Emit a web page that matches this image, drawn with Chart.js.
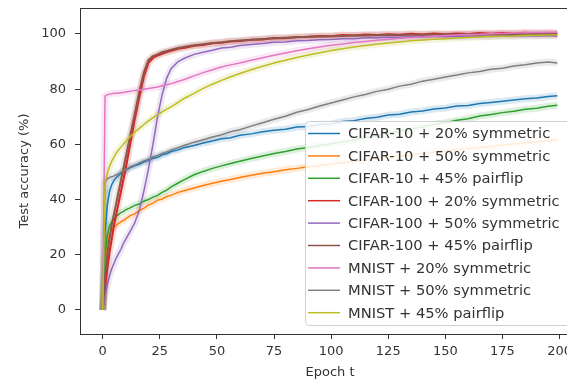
<!DOCTYPE html>
<html>
<head>
<meta charset="utf-8">
<script src="https://cdn.jsdelivr.net/npm/chart.js@4.4.0/dist/chart.umd.min.js"></script>
<style>
    html, body { margin: 0; padding: 0; background: #fff; overflow: hidden; width: 567px; height: 383px; }
    #wrap { position: relative; width: 567px; height: 383px; overflow: hidden; }
    #wrap canvas { position: absolute; left: 0; top: 0; }
</style>
</head>
<body>
<div id="wrap"><canvas id="Graph" width="580" height="383"></canvas></div>
<script>
const epochs = [0, 1, 2, 3, 4, 5, 6, 7, 8, 9, 10, 12, 14, 16, 18, 20, 22, 24, 26, 28, 30, 33, 36, 40, 44, 48, 52, 56, 60,
    65, 70, 75, 80, 85, 90, 95, 100, 105, 110, 115, 120, 125, 130, 135, 140, 145, 150, 155, 160, 165, 170, 175, 180, 185, 190, 195, 199];

const cifar10Sym20 = [0, 28, 38, 43, 45.5, 47, 48, 48.8, 49.5, 50, 50.6, 51.5, 52.2, 52.8, 53.6, 54.1, 54.9, 55.3, 56.2, 56.6, 57.4,
    58, 58.9, 59.6, 60.5, 61.2, 62, 62.4, 63.3, 63.8, 64.6, 65.1, 65.5, 66.3, 66.5, 67.2, 67.4, 68.3, 68.6, 69.4, 69.8, 70.6, 70.9,
    71.7, 72.1, 72.8, 73.2, 73.9, 74.1, 74.8, 75.2, 75.6, 76.1, 76.5, 76.8, 77.3, 77.6];
const cifar10Sym50 = [0, 17, 24, 27.5, 29, 30, 30.8, 31.4, 32, 32.4, 33, 34.2, 34.8, 36.1, 36.8, 38.1, 38.7, 39.8, 40.2, 41.1, 41.6,
    42.6, 43.3, 44.2, 45.1, 45.9, 46.6, 47.3, 48, 48.8, 49.5, 50.1, 50.8, 51.3, 51.9, 52.3, 52.8, 53.4, 53.8, 54.4, 54.8, 55.4, 55.7,
    56.3, 56.6, 57.2, 57.5, 58.1, 58.4, 58.9, 59.3, 59.8, 60.1, 60.6, 60.9, 61.3, 61.6];
const cifar10Pair45 = [0, 20, 27, 30.5, 32, 33, 34, 34.6, 35.3, 35.7, 36.3, 37, 37.9, 38.4, 39.4, 40, 40.9, 41.5, 42.6, 43.4, 44.6,
    46, 47.3, 49, 50.2, 51.3, 52.2, 53.1, 53.9, 54.9, 55.8, 56.7, 57.4, 58.3, 58.9, 59.6, 60.2, 60.9, 61.5, 62.5, 63.1, 64.1, 64.7,
    65.6, 66.3, 67.2, 67.8, 68.7, 69.3, 70.3, 70.8, 71.5, 72, 72.7, 73.1, 73.8, 74.2];
const cifar100Sym20 = [0, 8, 15, 21, 26, 31, 35, 39, 43, 47, 51, 60, 69, 77, 84.5, 89.5, 91.3, 92.2, 92.8, 93.4, 93.9,
    94.6, 95, 95.7, 96, 96.6, 96.8, 97.3, 97.4, 97.9, 98, 98.5, 98.4, 98.9, 99, 99.3, 99.2, 99.6, 99.4, 99.8, 99.6, 99.9, 99.7,
    100.1, 99.8, 100.2, 99.9, 100.2, 100, 100.3, 100.1, 100.3, 100.1, 100.4, 100.2, 100.3, 100.2];
const cifar100Sym50 = [0, 5, 9, 12.5, 15, 17, 19, 20.5, 22, 24, 25.5, 28.5, 31.5, 36, 43, 51, 60, 70, 78, 84, 87.5,
    90, 91.3, 92.6, 93.4, 94.1, 94.9, 95.2, 95.8, 96.2, 96.5, 97, 97.1, 97.5, 97.6, 97.9, 98, 98.3, 98.3, 98.6, 98.6, 98.8, 98.8,
    99, 98.9, 99.1, 99.1, 99.2, 99.1, 99.3, 99.2, 99.4, 99.3, 99.4, 99.3, 99.4, 99.3];
const cifar100Pair45 = [0, 12, 20, 26, 31, 35, 39, 43, 47, 51, 55, 63, 71, 79, 86, 90.5, 92, 92.6, 93.4, 93.8, 94.3,
    94.9, 95.4, 95.9, 96.3, 96.7, 97, 97.4, 97.6, 97.9, 98.2, 98.4, 98.6, 98.8, 99, 99.1, 99.2, 99.3, 99.4, 99.4, 99.5, 99.6, 99.6,
    99.7, 99.7, 99.8, 99.8, 99.8, 99.9, 99.9, 99.9, 100, 99.9, 100, 100, 100, 99.9];
const mnistSym20 = [0, 77.5, 78, 78.2, 78.3, 78.5, 78.5, 78.6, 78.7, 78.8, 79, 79.2, 79.5, 79.7, 80, 80.2, 80.5, 80.8, 81.2, 81.6, 82,
    82.8, 83.6, 84.8, 86, 87, 88, 88.8, 89.5, 90.5, 91.4, 92.3, 93.1, 93.9, 94.6, 95.3, 95.9, 96.4, 96.9, 97.3, 97.7, 98.1, 98.4,
    98.7, 98.9, 99.2, 99.4, 99.6, 99.8, 99.9, 100.1, 100.2, 100.3, 100.4, 100.5, 100.5, 100.6];
const mnistSym50 = [0, 46, 47.5, 48, 48.3, 48.6, 49, 49.4, 49.9, 50.3, 50.8, 51.8, 52.5, 53.3, 54, 54.6, 55.4, 56, 56.7, 57.2, 58,
    58.8, 59.7, 60.8, 61.7, 62.7, 63.5, 64.6, 65.3, 66.6, 67.8, 69.1, 70.2, 71.6, 72.6, 73.9, 75, 76.1, 77.2, 78.1, 79.2, 80, 81.1,
    81.8, 82.9, 83.6, 84.4, 85.1, 85.9, 86.4, 87.2, 87.6, 88.4, 88.8, 89.5, 89.8, 89.5];
const mnistPair45 = [0, 46, 49.5, 52, 54, 55.5, 57, 58, 59, 60, 61, 62.8, 64.4, 65.8, 67.2, 68.5, 69.7, 70.8, 71.8, 72.8, 73.7,
    75.2, 76.8, 78.5, 80.3, 81.8, 83.2, 84.5, 85.7, 87, 88.3, 89.5, 90.5, 91.5, 92.4, 93.2, 94, 94.6, 95.3, 95.8, 96.3, 96.7, 97.1,
    97.5, 97.8, 98.1, 98.3, 98.5, 98.7, 98.9, 99.1, 99.2, 99.3, 99.5, 99.5, 99.6, 99.7];

const seriesNames = [
    'CIFAR-10 + 20% symmetric', 'CIFAR-10 + 50% symmetric', 'CIFAR-10 + 45% pairflip',
    'CIFAR-100 + 20% symmetric', 'CIFAR-100 + 50% symmetric', 'CIFAR-100 + 45% pairflip',
    'MNIST + 20% symmetric', 'MNIST + 50% symmetric', 'MNIST + 45% pairflip'
];
const seriesValues = [cifar10Sym20, cifar10Sym50, cifar10Pair45, cifar100Sym20, cifar100Sym50, cifar100Pair45,
    mnistSym20, mnistSym50, mnistPair45];

const xTickValues = [0, 25, 50, 75, 100, 125, 150, 175, 200];
const yTickValues = [0, 20, 40, 60, 80, 100];

const colors = ['31,119,180', '255,127,14', '44,160,44', '214,39,40', '148,103,189', '140,86,75', '227,119,194', '127,127,127', '188,189,34'];
const FONT = 'DejaVu Sans';
const TEXT = '#333';

const datasets = [];
seriesValues.forEach((vals, i) => {
    const pts = epochs.map((e, k) => ({ x: e, y: vals[k] }));
    // the line itself, later series on top like matplotlib
    datasets.push({
        label: seriesNames[i],
        data: pts,
        borderColor: 'rgb(' + colors[i] + ')',
        borderWidth: (i === 3 || i === 5) ? 2 : 1.5,
        pointRadius: 0,
        tension: 0,
        fill: false,
        order: 9 - i
    });
    // soft shaded band around it
    datasets.push({
        label: '',
        band: true,
        data: pts,
        borderColor: 'rgba(' + colors[i] + ',0.16)',
        borderWidth: 7,
        pointRadius: 0,
        tension: 0,
        fill: false,
        order: 100
    });
});

const framePlugin = {
    id: 'frame',
    afterDraw(chart) {
        const { ctx, chartArea } = chart;
        ctx.save();
        ctx.strokeStyle = '#333';
        ctx.lineWidth = 1;
        ctx.beginPath();
        ctx.moveTo(chartArea.left, chartArea.top + 0.5);
        ctx.lineTo(chartArea.right, chartArea.top + 0.5);
        ctx.lineTo(chartArea.right, chartArea.bottom);
        ctx.stroke();

        // legend box inside the plot, lower right
        const x0 = 305, y0 = 121, w = 290, h = 204, r = 4;
        ctx.fillStyle = 'rgba(255,255,255,0.85)';
        ctx.strokeStyle = '#d0d0d0';
        ctx.beginPath();
        ctx.roundRect(x0 + 0.5, y0 + 0.5, w, h, r);
        ctx.fill();
        ctx.stroke();

        ctx.font = '14.7px "' + FONT + '"';
        ctx.textBaseline = 'middle';
        ctx.textAlign = 'left';
        const items = chart.data.datasets.filter(d => !d.band);
        items.forEach((d, k) => {
            const y = 133.5 + k * 22.4;
            ctx.strokeStyle = d.borderColor;
            ctx.lineWidth = 1.5;
            ctx.beginPath();
            ctx.moveTo(308, y);
            ctx.lineTo(340, y);
            ctx.stroke();
            ctx.fillStyle = TEXT;
            ctx.fillText(d.label, 348, y + 1);
        });
        ctx.restore();
    }
};

new Chart(document.getElementById('Graph'), {
    type: 'line',
    data: { datasets: datasets },
    options: {
        responsive: false,
        animation: false,
        layout: { padding: { top: 8, left: 0, right: 0, bottom: 0 } },
        plugins: { legend: { display: false }, tooltip: { enabled: false } },
        scales: {
            x: {
                type: 'linear',
                min: -9.95,
                max: 208.95,
                afterBuildTicks: scale => { scale.ticks = xTickValues.map(v => ({ value: v })); },
                afterFit: scale => { scale.height = 49; scale.paddingLeft = 0; scale.paddingRight = 0; },
                grid: { drawOnChartArea: false, drawTicks: true, tickLength: 5, color: '#333' },
                border: { display: true, color: '#333', width: 1 },
                ticks: { color: TEXT, font: { family: FONT, size: 13 }, padding: 5, maxRotation: 0 },
                title: { display: true, text: 'Epoch t', color: TEXT, font: { family: FONT, size: 13 }, padding: { top: 0, bottom: 3 } }
            },
            y: {
                min: -8.7,
                max: 109.4,
                afterBuildTicks: scale => { scale.ticks = yTickValues.map(v => ({ value: v })); },
                afterFit: scale => { scale.width = 80; scale.paddingTop = 0; scale.paddingBottom = 0; },
                grid: { drawOnChartArea: false, drawTicks: true, tickLength: 5, color: '#333' },
                border: { display: true, color: '#333', width: 1 },
                ticks: { color: TEXT, font: { family: FONT, size: 13 }, padding: 9 },
                title: { display: true, text: 'Test accuracy (%)', color: TEXT, font: { family: FONT, size: 13 }, padding: { top: 17, bottom: 0 } }
            }
        }
    },
    plugins: [framePlugin]
});
</script>
</body>
</html>
